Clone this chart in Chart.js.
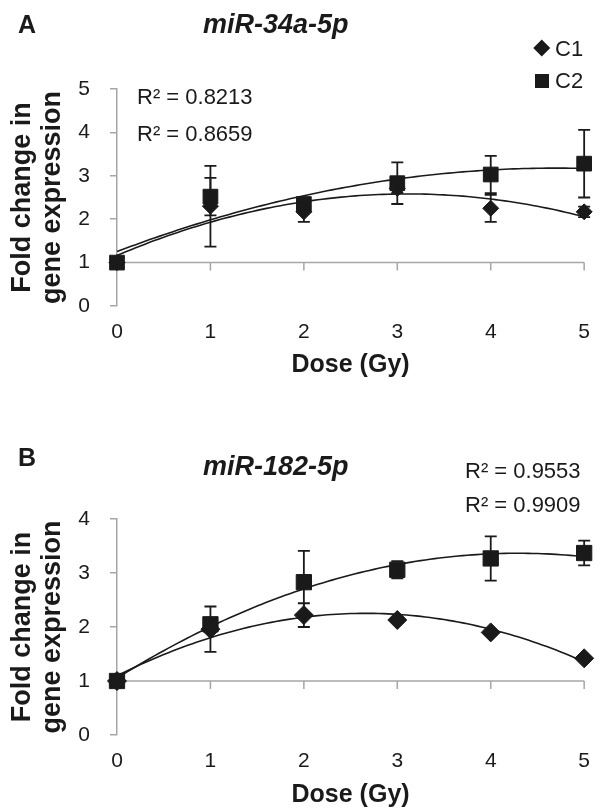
<!DOCTYPE html>
<html>
<head>
<meta charset="utf-8">
<script src="https://cdn.jsdelivr.net/npm/chart.js@4.4.1/dist/chart.umd.min.js"></script>
<style>
  body { margin:0; background:#fff; font-family:'Liberation Sans', Arial, sans-serif; color:#1a1a1a; }
  #wrap { position:relative; width:604px; height:808px; overflow:hidden; }
  .panel { position:absolute; left:0; width:604px; height:404px; }
  .lbl { position:absolute; white-space:nowrap; line-height:1; }
  .key { position:absolute; background:#1a1a1a; }
</style>
</head>
<body>
<div id="wrap">
  <div class="panel" style="top:0"><canvas id="chartA"></canvas></div>
  <div class="panel" style="top:404px"><canvas id="chartB"></canvas></div>
</div>
<script>
// ── Data ─────────────────────────────────────────────────────
const doses   = [0, 1, 2, 3, 4, 5];
const seriesNames = ['C1', 'C2'];

// panel A : miR-34a-5p
const c1A    = [1.00, 2.30, 2.17, 2.71, 2.25, 2.17];
const c1AErr = [0,    0.93, 0.23, 0.10, 0.31, 0.12];
const c2A    = [1.00, 2.52, 2.35, 2.83, 3.03, 3.28];
const c2AErr = [0,    0.43, 0.10, 0.48, 0.43, 0.78];
const yTicksA = [0, 1, 2, 3, 4, 5];
const rSqA   = ['R² = 0.8213', 'R² = 0.8659'];

// panel B : miR-182-5p
const c1B    = [1.00, 1.96, 2.22, 2.13, 1.90, 1.42];
const c1BErr = [0,    0.42, 0.22, 0.05, 0.05, 0.05];
const c2B    = [1.00, 2.05, 2.83, 3.06, 3.27, 3.37];
const c2BErr = [0,    0.10, 0.58, 0.16, 0.41, 0.23];
const yTicksB = [0, 1, 2, 3, 4];
const rSqB   = ['R² = 0.9553', 'R² = 0.9909'];

const TXT  = '#1a1a1a';
const AXIS = '#a6a6a6';

Chart.defaults.font.family = "'Liberation Sans', Arial, sans-serif";
Chart.defaults.color = TXT;

// ── Helpers ──────────────────────────────────────────────────
// 2nd order least squares (same as the spreadsheet trendline)
function quadFit(xs, ys) {
  const s = [0,0,0,0,0], t = [0,0,0];
  xs.forEach((x, i) => {
    for (let k = 0; k < 5; k++) s[k] += x ** k;
    for (let k = 0; k < 3; k++) t[k] += ys[i] * x ** k;
  });
  const M = [[s[0],s[1],s[2]],[s[1],s[2],s[3]],[s[2],s[3],s[4]]];
  const det = m => m[0][0]*(m[1][1]*m[2][2]-m[1][2]*m[2][1])
                 - m[0][1]*(m[1][0]*m[2][2]-m[1][2]*m[2][0])
                 + m[0][2]*(m[1][0]*m[2][1]-m[1][1]*m[2][0]);
  const D = det(M);
  return [0,1,2].map(c => det(M.map((row, r) => row.map((v, k) => k === c ? t[r] : v))) / D);
}

// horizontal axis crossing at y = 1, ticks pointing down
const axisAtOne = {
  id: 'axisAtOne',
  beforeDatasetsDraw(chart) {
    const { ctx, scales: { x, y } } = chart;
    const py = y.getPixelForValue(1);
    ctx.save();
    ctx.strokeStyle = AXIS; ctx.lineWidth = 1.5;
    ctx.beginPath();
    ctx.moveTo(x.getPixelForValue(x.min), py);
    ctx.lineTo(x.getPixelForValue(x.max), py);
    x.ticks.forEach(t => {
      if (t.value === x.min) return;
      const px = x.getPixelForValue(t.value);
      ctx.moveTo(px, py); ctx.lineTo(px, py + 8);
    });
    ctx.stroke();
    ctx.restore();
  }
};

// polynomial trendlines + error bars
const trendAndErr = {
  id: 'trendAndErr',
  beforeDatasetsDraw(chart) {
    const { ctx, scales: { x, y } } = chart;
    ctx.save();
    ctx.strokeStyle = TXT; ctx.lineWidth = 1.6;
    chart.data.datasets.forEach(ds => {
      const c = quadFit(ds.data.map(p => p.x), ds.data.map(p => p.y));
      ctx.beginPath();
      for (let i = 0; i <= 100; i++) {
        const xv = x.min + (x.max - x.min) * i / 100;
        const yv = c[0] + c[1] * xv + c[2] * xv * xv;
        const px = x.getPixelForValue(xv), py = y.getPixelForValue(yv);
        i ? ctx.lineTo(px, py) : ctx.moveTo(px, py);
      }
      ctx.stroke();
    });
    ctx.restore();
  },
  afterDatasetsDraw(chart) {
    const { ctx, scales: { x, y } } = chart;
    ctx.save();
    ctx.strokeStyle = TXT; ctx.lineWidth = 1.8;
    chart.data.datasets.forEach(ds => {
      ds.data.forEach((p, i) => {
        const e = ds.errors[i];
        if (!e) return;
        const px = x.getPixelForValue(p.x);
        const top = y.getPixelForValue(p.y + e), bot = y.getPixelForValue(p.y - e);
        ctx.beginPath();
        ctx.moveTo(px, top); ctx.lineTo(px, bot);
        ctx.moveTo(px - 6, top); ctx.lineTo(px + 6, top);
        ctx.moveTo(px - 6, bot); ctx.lineTo(px + 6, bot);
        ctx.stroke();
      });
    });
    ctx.restore();
  }
};

function makeChart(id, c1, c1Err, c2, c2Err, yTicks, padTop, xAxisH, xTitlePad, diaR, sqR) {
  const pts = arr => doses.map((d, i) => ({ x: d, y: arr[i] }));
  return new Chart(document.getElementById(id), {
    type: 'scatter',
    data: {
      datasets: [
        { label: seriesNames[0], data: pts(c1), errors: c1Err, pointStyle: 'rectRot',
          pointRadius: diaR, backgroundColor: TXT, borderColor: TXT, borderWidth: 1, clip: false },
        { label: seriesNames[1], data: pts(c2), errors: c2Err, pointStyle: 'rect',
          pointRadius: sqR, backgroundColor: TXT, borderColor: TXT, borderWidth: 1, clip: false }
      ]
    },
    options: {
      responsive: true, maintainAspectRatio: false, animation: false,
      layout: { padding: { top: padTop, right: 14, bottom: 0, left: 0 } },
      plugins: { legend: { display: false }, tooltip: { enabled: false } },
      scales: {
        x: {
          type: 'linear', min: doses[0], max: doses[doses.length - 1],
          ticks: { stepSize: 1, color: TXT, font: { size: 21 }, padding: 14 },
          grid: { display: false, drawTicks: false },
          border: { display: false },
          title: { display: true, text: 'Dose (Gy)', color: TXT,
                   font: { size: 25, weight: 'bold', lineHeight: 1 }, padding: { top: 0, bottom: xTitlePad } },
          afterFit: s => { s.height = xAxisH; }
        },
        y: {
          min: yTicks[0], max: yTicks[yTicks.length - 1],
          ticks: { stepSize: 1, color: TXT, font: { size: 21 }, padding: 20 },
          grid: { drawOnChartArea: false, drawTicks: true, tickLength: 7, color: AXIS, lineWidth: 1.5 },
          border: { display: true, color: AXIS, width: 1.5 },
          title: { display: true, text: ['Fold change in', 'gene expression'], color: TXT,
                   font: { size: 27, weight: 'bold', lineHeight: 1.1 }, padding: { top: 8, bottom: 0 } },
          afterFit: s => { s.width = 117; }
        }
      }
    },
    plugins: [axisAtOne, trendAndErr]
  });
}

makeChart('chartA', c1A, c1AErr, c2A, c2AErr, yTicksA, 89, 98, 26, 8, 10.4);
makeChart('chartB', c1B, c1BErr, c2B, c2BErr, yTicksB, 115, 73, 0, 9.5, 10.8);

// ── Text labels ──────────────────────────────────────────────
const wrap = document.getElementById('wrap');
function addText(txt, left, cy, size, extra) {
  const d = document.createElement('div');
  d.className = 'lbl';
  d.textContent = txt;
  d.style.cssText = `left:${left}px;top:${cy - size / 2}px;font-size:${size}px;` + (extra || '');
  wrap.appendChild(d);
}
function addKey(cx, cy, w, rot) {
  const k = document.createElement('div');
  k.className = 'key';
  k.style.cssText = `left:${cx - w / 2}px;top:${cy - w / 2}px;width:${w}px;height:${w}px;` + (rot ? 'transform:rotate(45deg);' : '');
  wrap.appendChild(k);
}

addText('A', 18, 24, 25, 'font-weight:bold');
addText('miR-34a-5p', 203, 24, 27, 'font-weight:bold;font-style:italic');
addText(rSqA[0], 137, 97, 22);
addText(rSqA[1], 137, 134, 22);
addKey(542, 48, 11.5, true);
addKey(542, 81, 14, false);
addText(seriesNames[0], 555, 49, 22);
addText(seriesNames[1], 555, 81, 22);

addText('B', 18, 457, 25, 'font-weight:bold');
addText('miR-182-5p', 203, 466, 27, 'font-weight:bold;font-style:italic');
addText(rSqB[0], 465, 470.5, 22);
addText(rSqB[1], 465, 504.5, 22);
</script>
</body>
</html>
